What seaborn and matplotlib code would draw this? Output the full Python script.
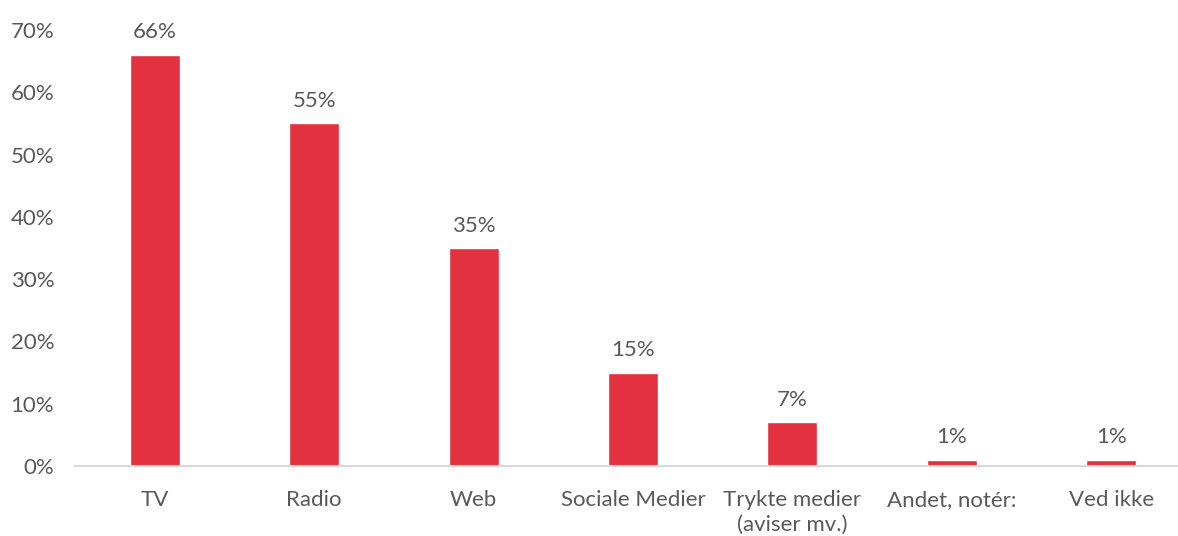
import matplotlib
matplotlib.use("Agg")
import matplotlib.pyplot as plt
import seaborn as sns
import pandas as pd
from matplotlib.ticker import FuncFormatter

# Media channels and share of respondents (%)
categories = ["TV", "Radio", "Web", "Sociale Medier", "Trykte medier\n(aviser mv.)",
              "Andet, notér:", "Ved ikke"]
values = [66, 55, 35, 15, 7, 1, 1]
yticks = [0, 10, 20, 30, 40, 50, 60, 70]

sns.set_theme(style="white")
plt.rcParams["font.family"] = ["Lato", "DejaVu Sans"]

TEXT = "#595959"
BAR = "#E3313F"
FS = 16

df = pd.DataFrame({"kanal": categories, "andel": values})

fig = plt.figure(figsize=(11.78, 5.36), dpi=100)
ax = fig.add_axes([75 / 1178, 70 / 536, 1116 / 1178, 436 / 536])

sns.barplot(data=df, x="kanal", y="andel", color=BAR, width=0.314,
            saturation=1, ax=ax)

ax.set_ylim(0, 70)
ax.set_xlim(-0.5, len(categories) - 0.5)
ax.set_yticks(yticks)
ax.yaxis.set_major_formatter(FuncFormatter(lambda v, _: f"{v:.0f}%"))
ax.set_xlabel("")
ax.set_ylabel("")

for side in ["top", "right", "left"]:
    ax.spines[side].set_visible(False)
ax.spines["bottom"].set_color("#D9D9D9")
ax.spines["bottom"].set_linewidth(1.5)

ax.tick_params(axis="x", length=0, pad=17, labelsize=FS, labelcolor=TEXT)
ax.tick_params(axis="y", length=0, pad=15, labelsize=FS, labelcolor=TEXT)
for lbl in ax.get_xticklabels():
    lbl.set_linespacing(1.35)

for i, v in enumerate(values):
    ax.annotate(f"{v}%", xy=(i, v), xytext=(0, 9), textcoords="offset points",
                ha="center", va="bottom", fontsize=FS, color=TEXT)

fig.savefig("out.png", dpi=100)
